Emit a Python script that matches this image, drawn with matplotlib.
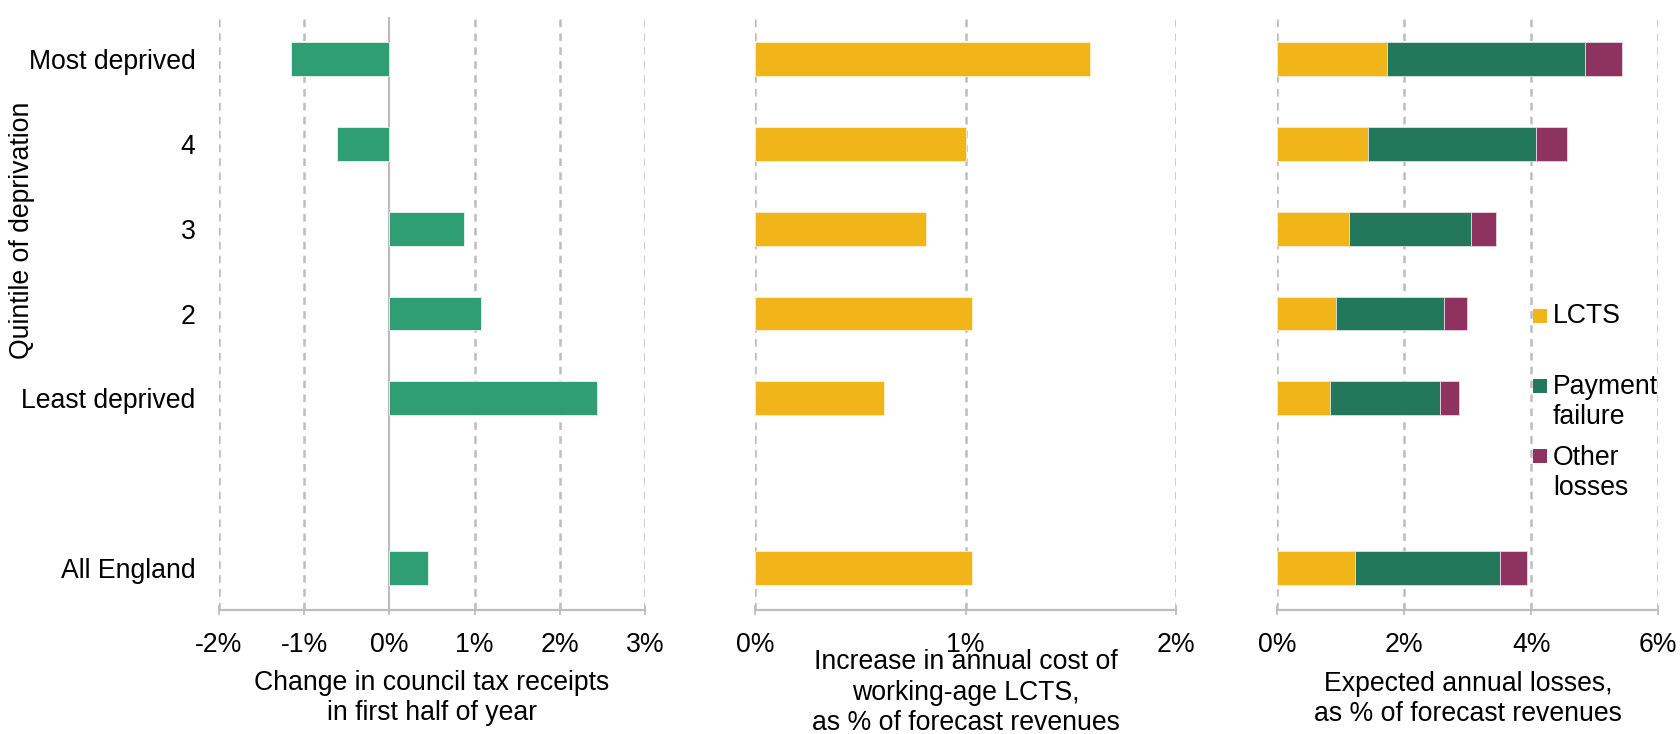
import matplotlib
matplotlib.use("Agg")
import matplotlib.pyplot as plt
from matplotlib.patches import Rectangle

# ---------------- data ----------------
categories = ["Most deprived", "4", "3", "2", "Least deprived", "All England"]
row_pos = [0, 1, 2, 3, 4, 6]

ct_change = [-1.15, -0.62, 0.87, 1.08, 2.44, 0.45]        # % change in council tax receipts
lcts_cost = [1.59, 1.00, 0.81, 1.03, 0.61, 1.03]          # % of forecast revenues
loss_lcts = [1.73, 1.43, 1.13, 0.92, 0.83, 1.23]
loss_payment = [3.12, 2.65, 1.92, 1.71, 1.74, 2.27]
loss_other = [0.58, 0.49, 0.39, 0.36, 0.29, 0.43]

legend_labels = ["LCTS", "Payment\nfailure", "Other\nlosses"]
xlabels = ["Change in council tax receipts\nin first half of year",
           "Increase in annual cost of\nworking-age LCTS,\nas % of forecast revenues",
           "Expected annual losses,\nas % of forecast revenues"]

# ---------------- style ----------------
GREEN = "#2f9e74"
YELLOW = "#f2b519"
DKGREEN = "#23775a"
MAROON = "#8e335f"
GRID = "#bdbdbd"
FS = 19.2
LS = 1.22

plt.rcParams["font.family"] = ["Liberation Sans", "DejaVu Sans"]
plt.rcParams["lines.scale_dashes"] = False

W, H = 1680, 734
fig = plt.figure(figsize=(W / 100, H / 100), dpi=100)


def px_axes(x0, x1, y0, y1):
    return fig.add_axes([x0 / W, 1 - y1 / H, (x1 - x0) / W, (y1 - y0) / H])


ax1 = px_axes(219, 645, 17, 610)
ax2 = px_axes(755.4, 1176, 17, 610)
ax3 = px_axes(1277.3, 1658.3, 17, 610)

BH = 0.4
ax1.barh(row_pos, ct_change, height=BH, color=GREEN, edgecolor="#e8f4ee", linewidth=0.6, zorder=3)
ax2.barh(row_pos, lcts_cost, height=BH, color=YELLOW, edgecolor="#fbf0d2", linewidth=0.6, zorder=3)
left2 = [a + b for a, b in zip(loss_lcts, loss_payment)]
ax3.barh(row_pos, loss_lcts, height=BH, color=YELLOW, edgecolor="#f5ecd5", linewidth=0.6, zorder=3)
ax3.barh(row_pos, loss_payment, left=loss_lcts, height=BH, color=DKGREEN, edgecolor="#d8e4de", linewidth=0.6, zorder=3)
ax3.barh(row_pos, loss_other, left=left2, height=BH, color=MAROON, edgecolor="#e6d6de", linewidth=0.6, zorder=3)

ax1.set_xlim(-2, 3)
ax1.set_xticks([-2, -1, 0, 1, 2, 3])
ax2.set_xlim(0, 2)
ax2.set_xticks([0, 1, 2])
ax3.set_xlim(0, 6)
ax3.set_xticks([0, 2, 4, 6])

for ax in (ax1, ax2, ax3):
    ax.set_ylim(6.5, -0.5)
    for s in ("top", "right", "left"):
        ax.spines[s].set_visible(False)
    ax.spines["bottom"].set_color(GRID)
    ax.spines["bottom"].set_linewidth(1.6)
    ax.xaxis.grid(True, color=GRID, linewidth=1.8, linestyle=(0, (5.5, 4.5)), zorder=0)
    ax.set_axisbelow(True)
    ax.set_xticklabels([f"{int(t)}%" for t in ax.get_xticks()])
    ax.tick_params(axis="x", direction="inout", length=7, width=1.3, color=GRID,
                   labelsize=FS, pad=12, labelcolor="black")
    ax.tick_params(axis="y", length=0)

ax1.set_yticks(row_pos)
ax1.set_yticklabels(categories)
ax1.tick_params(axis="y", labelsize=FS, pad=17)
ax2.set_yticks([])
ax3.set_yticks([])
# zero reference line in panel 1
ax1.axvline(0, color=GRID, linewidth=1.6, zorder=1)
for gl, t in zip(ax1.get_xgridlines(), ax1.get_xticks()):
    if t == 0:
        gl.set_visible(False)

# axis titles (aligned on baseline of their last line)
centers = [(219 + 645) / 2, (755.4 + 1176) / 2, (1277.3 + 1658.3) / 2]
last_baselines = [720, 730, 721]
for cx, by, lab in zip(centers, last_baselines, xlabels):
    fig.text(cx / W, 1 - by / H, lab, ha="center", va="baseline", fontsize=FS,
             multialignment="center", linespacing=LS)

fig.text(22 / W, 1 - 230 / H, "Quintile of deprivation", rotation=90,
         ha="center", va="center", fontsize=FS)

# legend (manual)
leg_colors = [YELLOW, DKGREEN, MAROON]
sq_centers = [316, 386, 456]
text_last_base = [323, 424, 495]
for c, yc, yb, lab in zip(leg_colors, sq_centers, text_last_base, legend_labels):
    fig.patches.append(Rectangle((1533 / W, 1 - (yc + 7) / H), 14 / W, 14 / H,
                                 transform=fig.transFigure, facecolor=c, edgecolor="none"))
    fig.text(1553 / W, 1 - yb / H, lab, ha="left", va="baseline", fontsize=FS,
             linespacing=LS)

fig.savefig("out.png", dpi=100)
